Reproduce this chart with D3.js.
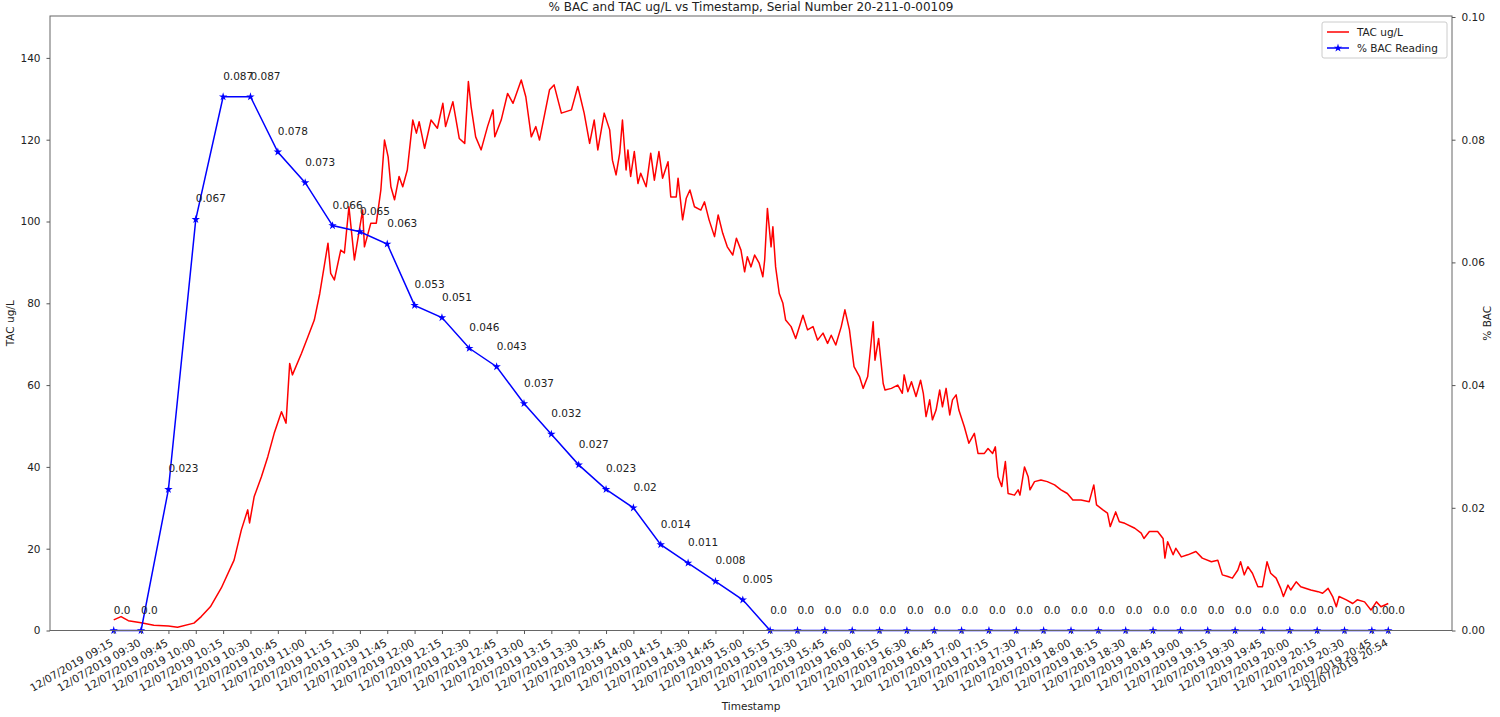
<!DOCTYPE html>
<html>
<head>
<meta charset="utf-8">
<script src="https://cdn.jsdelivr.net/npm/d3@7"></script>
<style>
  body { margin: 0; background: #fff; }
  text { font-family: "DejaVu Sans", sans-serif; fill: #222; }
</style>
</head>
<body>
<script>
var dateLabel = "12/07/2019";
var tickTimes = ["09:15", "09:30", "09:45", "10:00", "10:15", "10:30", "10:45", "11:00",
  "11:15", "11:30", "11:45", "12:00", "12:15", "12:30", "12:45", "13:00", "13:15", "13:30",
  "13:45", "14:00", "14:15", "14:30", "14:45", "15:00", "15:15", "15:30", "15:45", "16:00",
  "16:15", "16:30", "16:45", "17:00", "17:15", "17:30", "17:45", "18:00", "18:15", "18:30",
  "18:45", "19:00", "19:15", "19:30", "19:45", "20:00", "20:15", "20:30", "20:45", "20:54"];
var bacValues = [0.0, 0.0, 0.023, 0.067, 0.087, 0.087, 0.078, 0.073, 0.066, 0.065, 0.063, 0.053,
  0.051, 0.046, 0.043, 0.037, 0.032, 0.027, 0.023, 0.02, 0.014, 0.011, 0.008, 0.005,
  0.0, 0.0, 0.0, 0.0, 0.0, 0.0, 0.0, 0.0, 0.0, 0.0, 0.0, 0.0,
  0.0, 0.0, 0.0, 0.0, 0.0, 0.0, 0.0, 0.0, 0.0, 0.0, 0.0, 0.0];

// TAC sensor readings: minutes after 09:15 and ug/L
var tacMinutes = [0, 4, 8, 15, 22, 30, 35, 44, 48, 53, 59, 66, 70, 73.5, 74.5, 77, 81, 84.5, 88, 92,
  94.5, 96.5, 98, 103, 106.5, 110, 113, 117.5, 119, 121, 124.5, 126.5, 129, 132, 136.5, 137.5,
  141, 144, 146.5, 148.5, 150.5, 152, 154, 156.5, 158.5, 161, 164, 166, 167.5, 170.5, 174, 177.5,
  180.5, 182, 186, 189.5, 192.5, 194.5, 196, 198.5, 201.5, 205, 208, 209, 212.5, 216, 219, 223.5,
  226, 229, 231.5, 233.5, 239, 241.5, 245.5, 251, 254.5, 258, 261, 263.5, 265.5, 269, 272, 273.5,
  275.5, 277.5, 279, 281, 282, 283.5, 285.5, 287.5, 289, 292, 294.5, 296.5, 299, 301, 304, 305.5,
  308.5, 309.5, 312, 314, 316, 318.5, 322, 324, 326.5, 329.5, 331.5, 334, 336.5, 339.5, 341.5,
  344, 346, 347.5, 349.5, 351.5, 354, 356, 357, 358.5, 360.5, 361.5, 363, 365, 367, 368.5, 371.5,
  374, 378, 380.5, 383.5, 386, 389, 391.5, 393.5, 396, 399, 401, 403.5, 406, 409, 411, 413.5,
  416.5, 417.5, 419.5, 422, 423, 426.5, 430, 432.5, 433.5, 435.5, 437.5, 440, 442.5, 444, 445.5,
  447.5, 449, 451, 453, 454.5, 456.5, 458.5, 460, 462, 463.5, 466.5, 469, 472, 474, 477.5, 479.5,
  482, 483.5, 485, 487, 489, 490.5, 494, 496, 497, 499.5, 501.5, 502.5, 505, 508.5, 512, 516,
  519.5, 523, 526, 530.5, 535, 537.5, 539, 542.5, 545, 546.5, 549.5, 551.5, 554.5, 560, 563.5,
  565, 568, 572.5, 575.5, 576.5, 578, 581, 582.5, 585.5, 589, 593.5, 597, 602, 605.5, 608, 611,
  613.5, 616.5, 618, 620, 622, 624.5, 627.5, 630, 632.5, 634.5, 637.5, 640, 641.5, 644, 645.5,
  648.5, 651, 656.5, 660.5, 663, 666, 668.5, 670.5, 672, 676, 679.5, 682, 686, 689.5, 692.5, 695, 699];
var tacValues = [2.6, 3.4, 2.4, 1.9, 1.3, 1.1, 0.8, 1.8, 3.4, 5.8, 10.4, 17.2, 24.6, 29.5, 26.3, 32.7, 37.6, 42.5, 48.2, 53.5,
  50.7, 65.3, 62.5, 67.8, 71.8, 75.9, 82.4, 94.7, 87.3, 85.7, 93, 92.3, 103.6, 90.6, 102.8, 93.8,
  99.6, 99.6, 107.7, 119.9, 115.8, 108.5, 105.3, 111, 108.5, 112.6, 124.8, 121.6, 124.4, 117.9, 124.8, 122.8,
  128.9, 123.2, 129.3, 120.3, 119.1, 134.2, 128.1, 120.7, 117.5, 123.2, 127.3, 120.7, 124.8, 131.3, 128.9, 134.6,
  130.5, 120.7, 123.2, 119.9, 132.2, 133.4, 126.5, 127.3, 133, 126.5, 119.1, 124.8, 117.5, 126.5, 122.4, 115,
  111.4, 116.7, 124.8, 112.6, 117.5, 111, 117.1, 109.3, 111.8, 108.5, 116.7, 110.1, 117.1, 110.6, 114.6, 106,
  106, 110.6, 100.4, 105.7, 107.7, 103.6, 102.8, 104.8, 100.4, 96.3, 101.6, 97.1, 93.8, 91.8, 95.9,
  93, 87.7, 91.4, 88.9, 91.8, 89.8, 86.5, 90.6, 103.2, 93.8, 98.7, 88.9, 82.4, 80, 75.9, 74.3,
  71.4, 77.1, 73.5, 74.3, 71, 72.7, 70.2, 72.2, 69.8, 74.3, 78.4, 73.5, 64.5, 62.1, 59.2, 62.1,
  75.5, 66.1, 71.4, 60.4, 58.8, 59.2, 60, 58, 62.5, 58.4, 60.8, 57.2, 61.2, 58, 52.3,
  56.4, 51.5, 53.9, 58.8, 54.7, 59.2, 52.7, 56.4, 57.6, 53.9, 49.8, 45.8, 48.2, 43.3, 43.3, 44.5,
  43.3, 44.9, 37.6, 35.2, 41.3, 33.5, 33.1, 34.4, 33.1, 40, 37.6, 34.4, 36.4, 36.8, 36.4, 35.6,
  34.4, 33.5, 31.9, 31.9, 31.5, 35.6, 30.7, 29.5, 28.7, 25.4, 29, 26.6, 26.2, 25, 23.8,
  22.5, 24.2, 24.2, 22.5, 17.7, 21.7, 18.5, 20.1, 18, 18.5, 19.3, 17.7, 16.8, 17.2, 13.6, 13.2,
  12.8, 14.8, 16.8, 13.6, 15.6, 14, 10.7, 10.7, 16.8, 14, 12.8, 10.3, 8.3, 11.1, 9.9,
  11.9, 10.7, 9.9, 9.5, 9.1, 10.3, 8.3, 5.8, 8.3, 7.5, 6.6, 7.5, 7, 5, 7, 5.8, 6.6];

var tacTicks = [0, 20, 40, 60, 80, 100, 120, 140];
var bacTicks = [0, 0.02, 0.04, 0.06, 0.08, 0.10];

var width = 1500;
var height = 717;
var margin = {top: 16, right: 48, bottom: 86.5, left: 50};

var parse = d3.timeParse("%d/%m/%Y %H:%M");
var tickDates = tickTimes.map(function(t) { return parse(dateLabel + " " + t); });
var start = tickDates[0];
var end = tickDates[tickDates.length - 1];
var pad = (end - start) * 0.05;

var bacData = tickDates.map(function(d, i) { return {date: d, value: bacValues[i]}; });
var tacData = tacMinutes.map(function(m, i) {
  return {date: new Date(start.getTime() + m * 60000), value: tacValues[i]};
});

var svg = d3.select("body").append("svg")
  .attr("width", width)
  .attr("height", height)
  .style("background", "#fff");

var xScale = d3.scaleTime()
  .domain([new Date(start.getTime() - pad), new Date(end.getTime() + pad)])
  .range([margin.left, width - margin.right]);

var yTac = d3.scaleLinear()
  .domain([0, 150])
  .range([height - margin.bottom, margin.top + 1]);

var yBac = d3.scaleLinear()
  .domain([0, 0.10])
  .range([height - margin.bottom, margin.top + 1]);

// TAC line
svg.append("path")
  .datum(tacData)
  .attr("fill", "none")
  .attr("stroke", "#ff0000")
  .attr("stroke-width", 1.5)
  .attr("stroke-linejoin", "round")
  .attr("d", d3.line()
    .x(function(d) { return xScale(d.date); })
    .y(function(d) { return yTac(d.value); }));

// BAC line + markers
svg.append("path")
  .datum(bacData)
  .attr("fill", "none")
  .attr("stroke", "#0000ff")
  .attr("stroke-width", 1.5)
  .attr("d", d3.line()
    .x(function(d) { return xScale(d.date); })
    .y(function(d) { return yBac(d.value); }));

var star = d3.symbol().type(d3.symbolStar).size(22);
svg.append("g")
  .selectAll("path")
  .data(bacData)
  .enter()
  .append("path")
  .attr("d", star)
  .attr("fill", "#0000ff")
  .attr("transform", function(d) {
    return "translate(" + xScale(d.date) + "," + yBac(d.value) + ")";
  });

svg.append("g")
  .selectAll("text")
  .data(bacData)
  .enter()
  .append("text")
  .attr("x", function(d) { return xScale(d.date); })
  .attr("y", function(d) { return yBac(d.value) - 17; })
  .style("font-size", "10.5px")
  .text(function(d) { return d.value === 0 ? "0.0" : String(d.value); });

// frame
svg.append("rect")
  .attr("x", margin.left)
  .attr("y", margin.top)
  .attr("width", width - margin.left - margin.right)
  .attr("height", height - margin.bottom - margin.top)
  .attr("fill", "none")
  .attr("stroke", "#666")
  .attr("stroke-width", 1);

// axes
var axisx = d3.axisBottom(xScale)
  .tickValues(tickDates)
  .tickSize(3.5)
  .tickFormat(function(d, i) { return dateLabel + " " + tickTimes[i]; });
var gx = svg.append("g")
  .attr("transform", "translate(0," + (height - margin.bottom) + ")")
  .call(axisx);
gx.selectAll("text")
  .attr("x", 0)
  .attr("y", 0)
  .attr("dy", "0.75em")
  .attr("text-anchor", "end")
  .attr("transform", "translate(-4,7.5) rotate(-30)");

var gl = svg.append("g")
  .attr("transform", "translate(" + margin.left + ",0)")
  .call(d3.axisLeft(yTac).tickValues(tacTicks).tickSize(3.5).tickPadding(6));

var gr = svg.append("g")
  .attr("transform", "translate(" + (width - margin.right) + ",0)")
  .call(d3.axisRight(yBac).tickValues(bacTicks).tickSize(3.5).tickPadding(6)
    .tickFormat(d3.format(".2f")));

[gx, gl, gr].forEach(function(g) {
  g.select(".domain").remove();
  g.selectAll(".tick line").attr("stroke", "#555");
  g.selectAll("text").style("font-size", "10.5px").style("font-family", "DejaVu Sans, sans-serif").attr("fill", "#222");
});

// titles
var cx = (margin.left + width - margin.right) / 2;
svg.append("text")
  .attr("x", cx)
  .attr("y", 11)
  .attr("text-anchor", "middle")
  .style("font-size", "12px")
  .text("% BAC and TAC ug/L vs Timestamp, Serial Number 20-211-0-00109");

svg.append("text")
  .attr("x", cx)
  .attr("y", 710)
  .attr("text-anchor", "middle")
  .style("font-size", "10.5px")
  .text("Timestamp");

svg.append("text")
  .attr("transform", "translate(14," + ((margin.top + height - margin.bottom) / 2) + ") rotate(-90)")
  .attr("text-anchor", "middle")
  .style("font-size", "10.5px")
  .text("TAC ug/L");

svg.append("text")
  .attr("transform", "translate(1491," + ((margin.top + height - margin.bottom) / 2) + ") rotate(-90)")
  .attr("text-anchor", "middle")
  .style("font-size", "10.5px")
  .text("% BAC");

// legend
var legend = svg.append("g").attr("transform", "translate(1322,22)");
legend.append("rect")
  .attr("width", 125)
  .attr("height", 36)
  .attr("rx", 2)
  .attr("fill", "#fff")
  .attr("stroke", "#ccc");
var items = [
  {label: "TAC ug/L", color: "#ff0000", marker: false},
  {label: "% BAC Reading", color: "#0000ff", marker: true}
];
items.forEach(function(it, i) {
  var y = 10 + i * 16;
  legend.append("line")
    .attr("x1", 5).attr("x2", 27)
    .attr("y1", y).attr("y2", y)
    .attr("stroke", it.color)
    .attr("stroke-width", 1.5);
  if (it.marker) {
    legend.append("path")
      .attr("d", star)
      .attr("fill", it.color)
      .attr("transform", "translate(16," + y + ")");
  }
  legend.append("text")
    .attr("x", 35)
    .attr("y", y + 4)
    .style("font-size", "10.5px")
    .text(it.label);
});
</script>
</body>
</html>
